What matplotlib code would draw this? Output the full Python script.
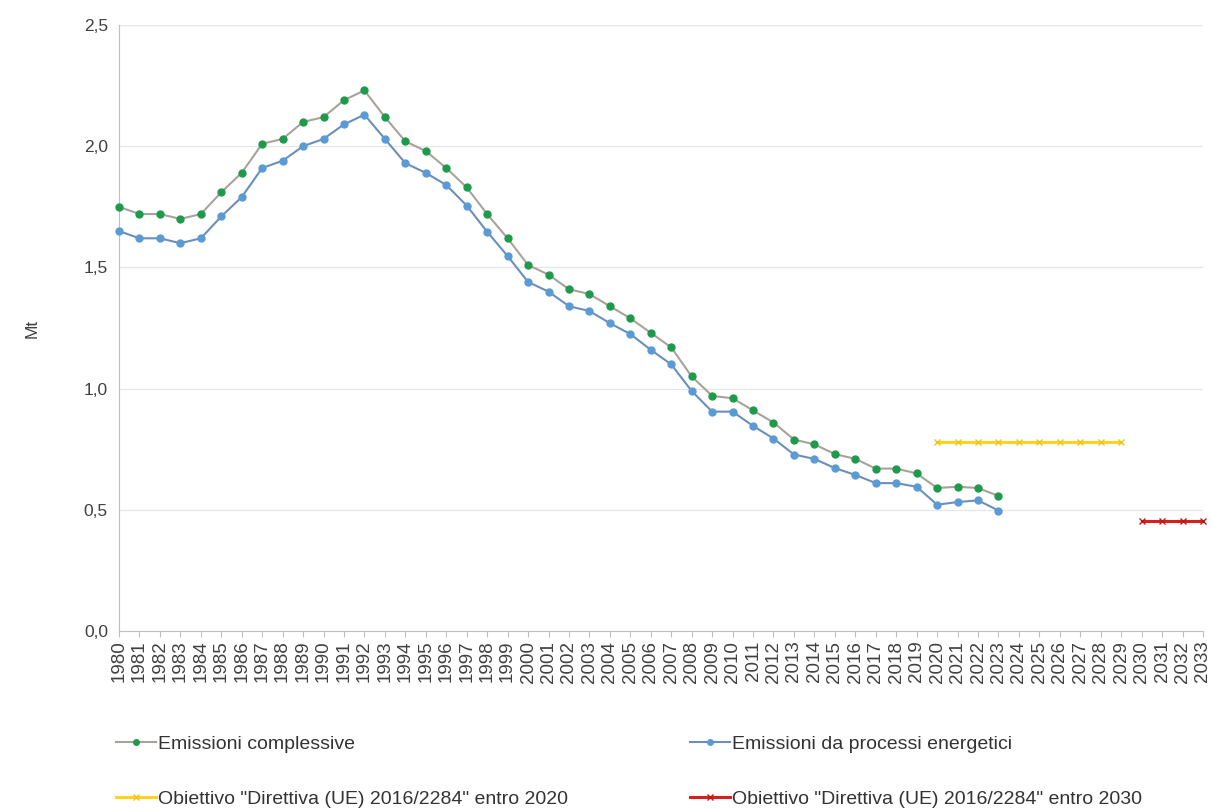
import matplotlib
matplotlib.use("Agg")
import matplotlib.pyplot as plt
import numpy as np

plt.rcParams['font.family'] = ['Liberation Sans', 'DejaVu Sans']

years = [str(y) for y in range(1980, 2034)]

emissioni_complessive = [
    1.75, 1.72, 1.72, 1.70, 1.72, 1.81, 1.89, 2.01, 2.03, 2.10,
    2.12, 2.19, 2.23, 2.12, 2.02, 1.98, 1.91, 1.83, 1.72, 1.62,
    1.51, 1.47, 1.41, 1.39, 1.34, 1.29, 1.23, 1.17, 1.05, 0.97,
    0.96, 0.91, 0.86, 0.79, 0.77, 0.73, 0.71, 0.67, 0.67, 0.65,
    0.59, 0.595, 0.59, 0.557,
]
emissioni_energetici = [
    1.65, 1.62, 1.62, 1.60, 1.62, 1.71, 1.79, 1.91, 1.94, 2.00,
    2.03, 2.09, 2.13, 2.03, 1.93, 1.89, 1.84, 1.755, 1.647, 1.547,
    1.44, 1.40, 1.34, 1.32, 1.27, 1.225, 1.16, 1.10, 0.99, 0.905,
    0.905, 0.846, 0.794, 0.728, 0.71, 0.672, 0.644, 0.61, 0.61, 0.595,
    0.521, 0.532, 0.539, 0.497,
]
obiettivo_2020_years = [str(y) for y in range(2020, 2030)]
obiettivo_2020 = [0.78] * 10
obiettivo_2030_years = [str(y) for y in range(2030, 2034)]
obiettivo_2030 = [0.452] * 4

idx = {y: i for i, y in enumerate(years)}
x_all = np.arange(len(years))

fig = plt.figure(figsize=(12.13, 8.10), dpi=100)
ax = fig.add_axes([119 / 1213, 1 - 631 / 810, (1203 - 119) / 1213, (631 - 25) / 810])

grid_c = '#e6e6e6'
for v in [0.5, 1.0, 1.5, 2.0, 2.5]:
    ax.axhline(v, color=grid_c, lw=0.9, zorder=0)

l1, = ax.plot(x_all[:len(emissioni_complessive)], emissioni_complessive, color='#a8a39a', lw=1.5,
              marker='o', ms=5, mfc='#1f9a4c', mec='#1f9a4c', zorder=3,
              label='Emissioni complessive', clip_on=False)
l2, = ax.plot(x_all[:len(emissioni_energetici)], emissioni_energetici, color='#6a8fbe', lw=1.5,
              marker='o', ms=5, mfc='#5b9bd5', mec='#5b9bd5', zorder=3,
              label='Emissioni da processi energetici', clip_on=False)
l3, = ax.plot([idx[y] for y in obiettivo_2020_years], obiettivo_2020, color='#ffd21f', lw=2.2,
              marker='x', ms=5, mec='#e8c820', mew=1.0, zorder=3,
              label='Obiettivo "Direttiva (UE) 2016/2284" entro 2020', clip_on=False)
l4, = ax.plot([idx[y] for y in obiettivo_2030_years], obiettivo_2030, color='#d62020', lw=2.2,
              marker='x', ms=5, mec='#c01818', mew=1.0, zorder=3,
              label='Obiettivo "Direttiva (UE) 2016/2284" entro 2030', clip_on=False)

ax.set_xlim(0, 53)
ax.set_ylim(0, 2.5)
ax.set_yticks([0, 0.5, 1.0, 1.5, 2.0, 2.5])
ax.set_yticklabels(['0,0', '0,5', '1,0', '1,5', '2,0', '2,5'], fontsize=12.5, color='#404040')
ax.set_xticks(x_all)
ax.set_xticklabels(years, rotation=90, fontsize=13.5, color='#404040')
ax.tick_params(axis='y', length=0, pad=8)
ax.tick_params(axis='x', length=4, color='#bfbfbf', pad=3)

for s in ['top', 'right']:
    ax.spines[s].set_visible(False)
ax.spines['left'].set_color('#bfbfbf')
ax.spines['bottom'].set_color('#bfbfbf')

ax.set_ylabel('Mt', fontsize=12.5, color='#404040', labelpad=32)

leg_kw = dict(loc='upper left', ncol=1, frameon=False, fontsize=14,
              handlelength=2.05, handletextpad=0.1, labelspacing=1.95,
              borderpad=0, borderaxespad=0, markerscale=0.8)
leg1 = fig.legend(handles=[l1, l3], bbox_to_anchor=(116 / 1213, 1 - 735 / 810), **leg_kw)
leg2 = fig.legend(handles=[l2, l4], bbox_to_anchor=(690 / 1213, 1 - 735 / 810), **leg_kw)
for lg in (leg1, leg2):
    for t in lg.get_texts():
        t.set_color('#333333')

fig.savefig('out.png', dpi=100, facecolor='white')
